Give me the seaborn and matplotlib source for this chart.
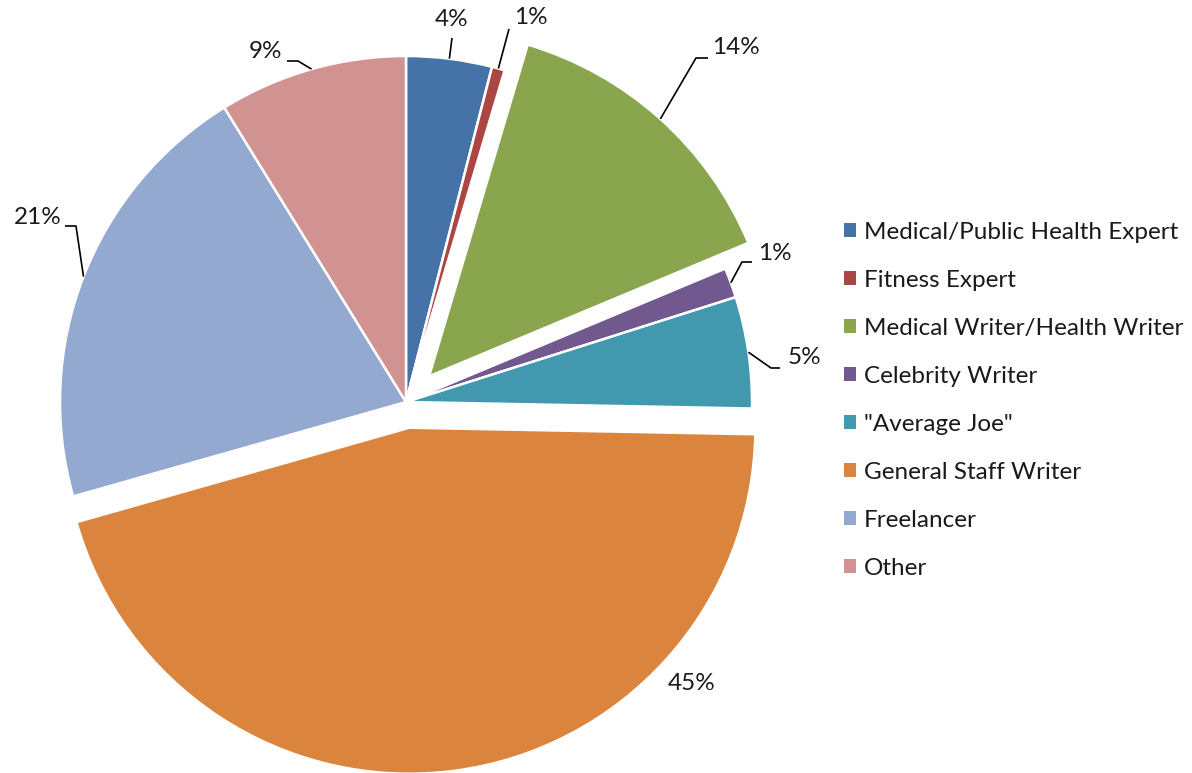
import numpy as np
import matplotlib
matplotlib.use("Agg")
import matplotlib.pyplot as plt
import seaborn as sns

# Share of authors by writer type (percent)
categories = [
    "Medical/Public Health Expert",
    "Fitness Expert",
    "Medical Writer/Health Writer",
    "Celebrity Writer",
    '"Average Joe"',
    "General Staff Writer",
    "Freelancer",
    "Other",
]
shares = [4.0, 0.6, 14.1, 1.4, 5.2, 45.3, 20.6, 8.8]
explode = [0, 0, 0.10, 0, 0, 0.075, 0, 0]
colors = ["#4572A7", "#AA4643", "#89A54E", "#71588F",
          "#4198AF", "#DB843D", "#93A9CF", "#D19392"]

sns.set_theme(style="white")
plt.rcParams["font.family"] = ["Lato", "DejaVu Sans"]

W, H = 1192, 773
CX, CY, R = 406, 402, 346  # pie centre and radius in pixels

fig = plt.figure(figsize=(W / 100, H / 100), dpi=100)
ax = fig.add_axes([0, 0, 1, 1])

wedges, _ = ax.pie(
    shares, colors=colors, explode=explode, startangle=90,
    counterclock=False, radius=1.0,
    wedgeprops=dict(edgecolor="white", linewidth=1.8),
)


def px(x, y):
    """Pixel position -> data coordinates."""
    return ((x - CX) / R, (CY - y) / R)


ax.set_xlim(px(0, 0)[0], px(W, 0)[0])
ax.set_ylim(px(0, H)[1], px(0, 0)[1])
ax.set_aspect("equal", adjustable="box")
ax.axis("off")

# Label text positions and leader-line bends (pixel layout)
label_pos = [(452, 20), (531, 18), (736, 48), (775, 254),
             (804, 358), (692, 684), (38, 217), (266, 51)]
leader_bend = [
    [(452, 38)],
    [(509, 29)],
    [(696, 58), (708, 58)],
    [(742, 262), (752, 262)],
    [(771, 368), (780, 368)],
    None,
    [(76, 226), (65, 226)],
    [(298, 61), (287, 61)],
]
fs = 17.5

for w, val, pos, bend in zip(wedges, shares, label_pos, leader_bend):
    ang = np.deg2rad((w.theta1 + w.theta2) / 2)
    cx, cy = w.center
    anchor = (cx + w.r * np.cos(ang), cy + w.r * np.sin(ang))
    pct = int(np.floor(val + 0.5))
    tx, ty = px(*pos)
    ax.text(tx, ty, f"{pct}%", ha="center", va="center",
            fontsize=fs, color="#1a1a1a")
    if bend:
        pts = [anchor] + [px(*p) for p in bend]
        xs, ys = zip(*pts)
        ax.plot(xs, ys, color="black", lw=1.2, solid_capstyle="butt")

leg = ax.legend(
    wedges, categories, loc="upper left",
    bbox_to_anchor=(834 / W, 1 - 212 / H), frameon=False,
    fontsize=fs, handlelength=0.5, handleheight=0.5,
    handletextpad=0.33, labelspacing=1.11, borderaxespad=0,
)
for h in leg.legend_handles:
    h.set_edgecolor("none")
for t in leg.get_texts():
    t.set_color("#1a1a1a")

fig.savefig("out.png", dpi=100)
